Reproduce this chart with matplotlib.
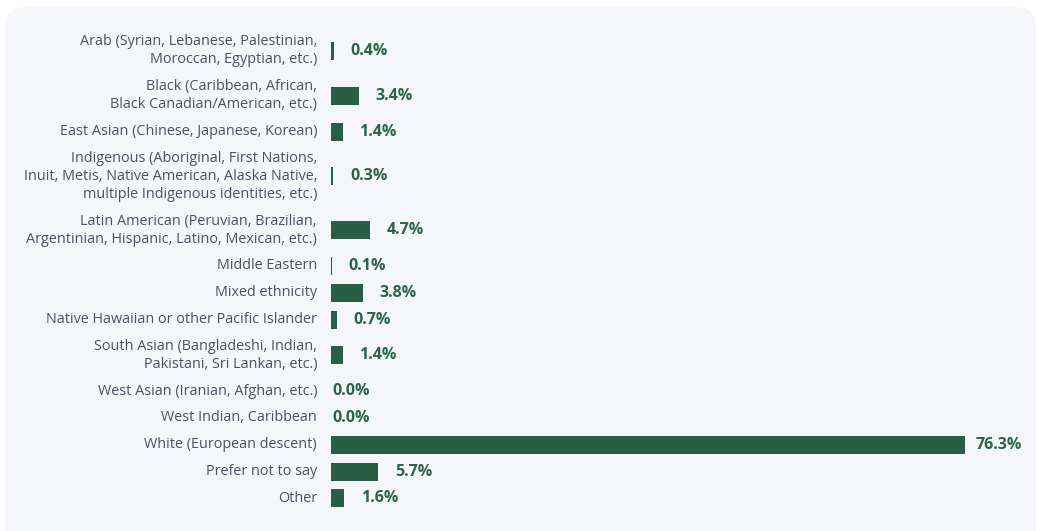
import matplotlib
matplotlib.use("Agg")
import matplotlib.pyplot as plt
from matplotlib.patches import FancyBboxPatch
from matplotlib.transforms import offset_copy, blended_transform_factory

# --- data -------------------------------------------------------------
categories = [
    ["Arab (Syrian, Lebanese, Palestinian,", "Moroccan, Egyptian, etc.)"],
    ["Black (Caribbean, African,", "Black Canadian/American, etc.)"],
    ["East Asian (Chinese, Japanese, Korean)"],
    ["Indigenous (Aboriginal, First Nations,",
     "Inuit, Metis, Native American, Alaska Native,",
     "multiple Indigenous identities, etc.)"],
    ["Latin American (Peruvian, Brazilian,",
     "Argentinian, Hispanic, Latino, Mexican, etc.)"],
    ["Middle Eastern"],
    ["Mixed ethnicity"],
    ["Native Hawaiian or other Pacific Islander"],
    ["South Asian (Bangladeshi, Indian,", "Pakistani, Sri Lankan, etc.)"],
    ["West Asian (Iranian, Afghan, etc.)"],
    ["West Indian, Caribbean"],
    ["White (European descent)"],
    ["Prefer not to say"],
    ["Other"],
]
values = [0.4, 3.4, 1.4, 0.3, 4.7, 0.1, 3.8, 0.7, 1.4, 0.0, 0.0, 76.3, 5.7, 1.6]
value_labels = [f"{v:.1f}%" for v in values]

# --- style ------------------------------------------------------------
W, H, DPI = 1039, 531, 100
PANEL = "#f5f6fa"
BAR = "#285e45"
VALUE_TXT = "#2c6446"
LABEL_TXT = "#4a5263"
FONT = "Open Sans"

LINE_PX = 18.0      # height of one label line
PAD_PX = 8.8        # extra room per row

fig = plt.figure(figsize=(W / DPI, H / DPI), dpi=DPI)
fig.patch.set_facecolor("white")

# rounded background card
card = FancyBboxPatch((5 / W, -20 / H), 1031 / W, (H - 7 + 20) / H,
                      boxstyle="round,pad=0,rounding_size=0.02",
                      mutation_aspect=W / H,
                      transform=fig.transFigure, facecolor=PANEL,
                      edgecolor="none", zorder=-10)
fig.patches.append(card)

# row layout: each row grows with the number of label lines
heights = [len(c) * LINE_PX + PAD_PX for c in categories]
centers = []
acc = 0.0
for h in heights:
    centers.append(acc + h / 2)
    acc += h
total = acc

top_px, left_px, right_px = 28.5, 331.0, 1022.0
ax = fig.add_axes([left_px / W, (H - top_px - total) / H,
                   (right_px - left_px) / W, total / H])
ax.set_zorder(5)
ax.set_facecolor("none")
xmax = (right_px - left_px) / 8.31
ax.set_xlim(0, xmax)
ax.set_ylim(total, 0)
ax.axis("off")

ax.barh(centers, values, height=LINE_PX, color=BAR, linewidth=0, zorder=2)

# category labels, one text per line, right-aligned left of the bars
lab_tr = offset_copy(blended_transform_factory(ax.transAxes, ax.transData),
                     fig=fig, x=-14, y=0, units="dots")
for c, yc in zip(categories, centers):
    n = len(c)
    for i, line in enumerate(c):
        y = yc + (i - (n - 1) / 2) * LINE_PX
        ax.text(0, y, line, transform=lab_tr, ha="right", va="center",
                fontsize=10.4, color=LABEL_TXT, family=FONT)

# value labels
for v, lab, yc in zip(values, value_labels, centers):
    if v > 0.8 * xmax:
        ax.annotate(lab, (xmax, yc), ha="right", va="center",
                    fontsize=11.5, fontweight="bold", color=VALUE_TXT,
                    family=FONT)
    else:
        off = 16.5 if v > 0 else 1
        ax.annotate(lab, (v, yc), xytext=(off * 72 / DPI, 0),
                    textcoords="offset points", ha="left", va="center",
                    fontsize=11.5, fontweight="bold", color=VALUE_TXT,
                    family=FONT)

fig.savefig("out.png", dpi=DPI, facecolor="white")
